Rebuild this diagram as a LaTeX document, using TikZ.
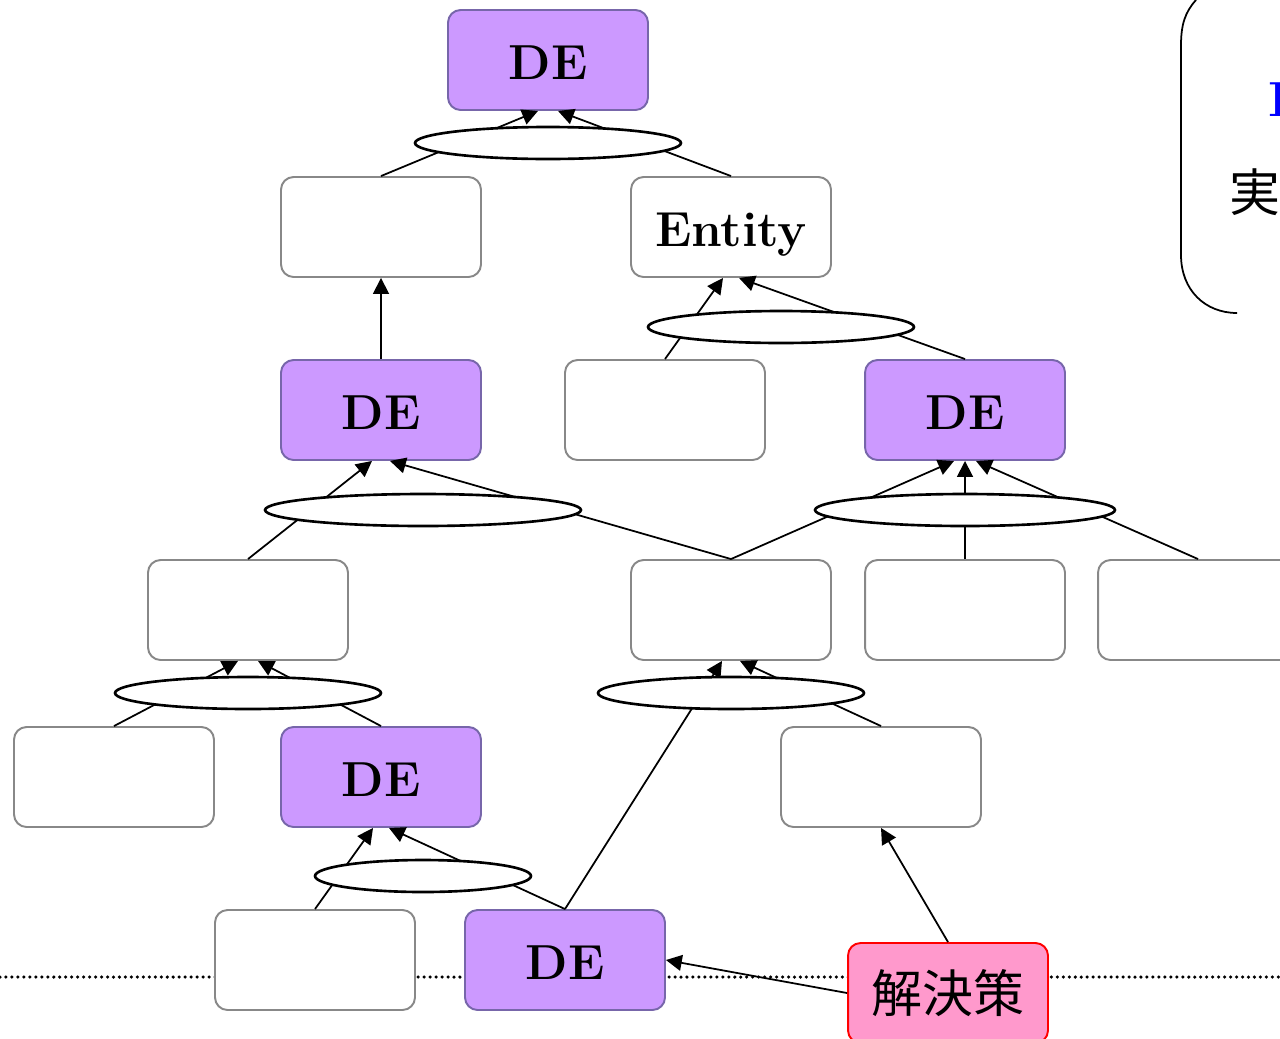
\documentclass[tikz,border=0pt]{standalone}
\usepackage{fontspec}
\newfontfamily\jpfont{Noto Sans CJK JP}
\usetikzlibrary{arrows.meta, shapes.geometric}

\definecolor{defill}{HTML}{CC99FF}
\definecolor{deborder}{HTML}{7766AA}
\definecolor{boxgray}{HTML}{888888}
\definecolor{solfill}{HTML}{FF99CC}

\begin{document}
\begin{tikzpicture}[x=0.02cm, y=-0.02cm,
  box/.style={draw=boxgray, fill=white, rounded corners=0.25cm, line width=1.1pt,
    minimum width=4cm, minimum height=2cm, inner sep=0pt,
    text height=22pt, text depth=0pt,
    font=\fontsize{28}{34}\selectfont\bfseries},
  de/.style={box, draw=deborder, fill=defill},
  sol/.style={box, draw=red, fill=solfill, text height=, text depth=,
    font=\fontsize{29}{34}\selectfont\jpfont},
  joint/.style={ellipse, draw=black, fill=white, line width=1.5pt, inner sep=0pt,
    minimum height=0.64cm},
  arr/.style={draw=black, line width=1pt, -{Triangle[length=9pt,width=9pt]}}]
\useasboundingbox (0,0) rectangle (1280,1038);
\clip (0,0) rectangle (1280,1038);

% dotted base line
\draw [black, line width=2pt, line cap=round, dash pattern=on 0pt off 3.4pt] (0,977) -- (1280,977);

% note at the right edge
\draw [black, line width=1pt] (1196,0) .. controls (1185,12) and (1181,25) .. (1181,45)
  -- (1181,255) .. controls (1181,290) and (1205,313) .. (1237,313);
\node[anchor=west, inner sep=0pt, text=blue, font=\fontsize{28}{34}\selectfont\bfseries] (notekey) at (1268,100) {D};
\node[anchor=west, inner sep=0pt, font=\fontsize{29}{34}\selectfont\jpfont] (notejp) at (1229,192) {実};

% boxes
\node[de] (detop) at (548,60) {DE};
\node[box] (boxa) at (381,227) {};
\node[box] (entity) at (731,227) {Entity};
\node[de] (deleft) at (381,410) {DE};
\node[box] (boxb) at (665,410) {};
\node[de] (deright) at (965,410) {DE};
\node[box] (boxc) at (248,610) {};
\node[box] (boxd) at (731,610) {};
\node[box] (boxe) at (965,610) {};
\node[box] (boxf) at (1198,610) {};
\node[box] (boxg) at (114,777) {};
\node[de] (delow) at (381,777) {DE};
\node[box] (boxh) at (881,777) {};
\node[box] (boxi) at (315,960) {};
\node[de] (debot) at (565,960) {DE};
\node[sol] (sol) at (948,993) {解決策};

% connectors
\draw[arr] (boxa.north) -- ([xshift=-0.2cm]detop.south);
\draw[arr] (entity.north) -- ([xshift=0.2cm]detop.south);
\draw[arr] (deleft.north) -- (boxa.south);
\draw[arr] (boxb.north) -- ([xshift=-0.16cm]entity.south);
\draw[arr] (deright.north) -- ([xshift=0.16cm]entity.south);
\draw[arr] (boxc.north) -- ([xshift=-0.18cm]deleft.south);
\draw[arr] (boxd.north) -- ([xshift=0.18cm]deleft.south);
\draw[arr] (boxd.north) -- ([xshift=-0.22cm]deright.south);
\draw[arr] (boxe.north) -- (deright.south);
\draw[arr] (boxf.north) -- ([xshift=0.22cm]deright.south);
\draw[arr] (boxg.north) -- ([xshift=-0.2cm]boxc.south);
\draw[arr] (delow.north) -- ([xshift=0.2cm]boxc.south);
\draw[arr] (debot.north) -- ([xshift=-0.18cm]boxd.south);
\draw[arr] (boxh.north) -- ([xshift=0.18cm]boxd.south);
\draw[arr] (boxi.north) -- ([xshift=-0.16cm]delow.south);
\draw[arr] (debot.north) -- ([xshift=0.16cm]delow.south);
\draw[arr] (sol.west) -- (debot.east);
\draw[arr] (sol.north) -- (boxh.south);

% joints
\node[joint, minimum width=5.32cm] (jtop) at (548,143) {};
\node[joint, minimum width=5.32cm] (jentity) at (781,327) {};
\node[joint, minimum width=6.32cm] (jleft) at (423,510) {};
\node[joint, minimum width=6cm] (jright) at (965,510) {};
\node[joint, minimum width=5.32cm] (jc) at (248,693) {};
\node[joint, minimum width=5.32cm] (jd) at (731,693) {};
\node[joint, minimum width=4.32cm] (jlow) at (423,876) {};
\end{tikzpicture}
\end{document}
